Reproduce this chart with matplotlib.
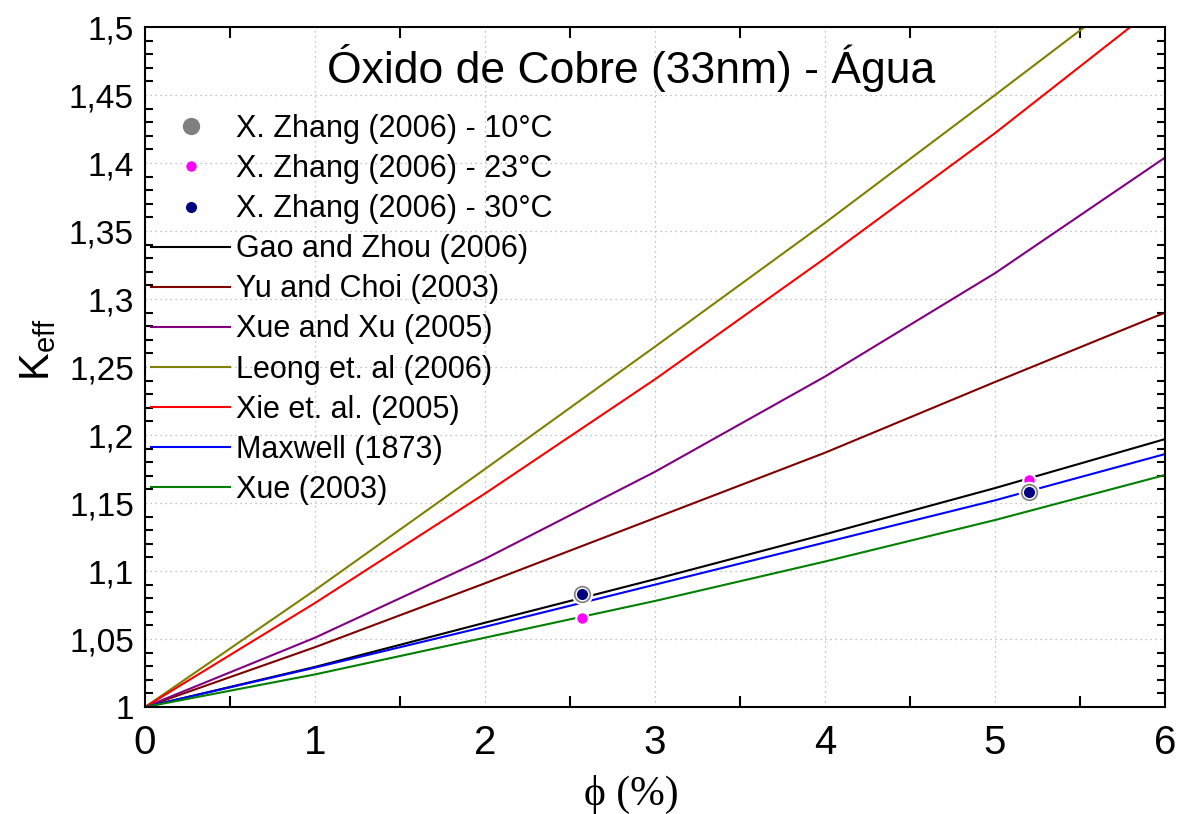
import numpy as np
import matplotlib.pyplot as plt
from matplotlib.ticker import MultipleLocator, FuncFormatter

# valores (phi em %)
phi = [0, 1, 2, 3, 4, 5, 6]
gao_zhou = [1.0, 1.0295, 1.062, 1.094, 1.127, 1.161, 1.197]
yu_choi = [1.0, 1.044, 1.091, 1.139, 1.187, 1.239, 1.290]
xue_xu = [1.0, 1.051, 1.109, 1.173, 1.243, 1.319, 1.404]
leong = [1.0, 1.086, 1.175, 1.265, 1.356, 1.450, 1.545]
xie = [1.0, 1.0765, 1.157, 1.241, 1.330, 1.422, 1.520]
maxwell = [1.0, 1.029, 1.059, 1.090, 1.121, 1.152, 1.186]
xue = [1.0, 1.024, 1.051, 1.078, 1.107, 1.1375, 1.1706]

# dados experimentais
zhang_phi = [2.57, 5.2]
zhang_10 = [1.083, 1.158]
zhang_23 = [1.0656, 1.167]
zhang_30 = [1.083, 1.158]

plt.rcParams['font.family'] = ['Liberation Sans', 'DejaVu Sans']

fig = plt.figure(figsize=(11.8, 8.14), dpi=100)
ax = fig.add_axes([0.1229, 0.1314, 0.8644, 0.8354])

p10, = ax.plot(zhang_phi, zhang_10, 'o', color='#808080', ms=14, mec='white', mew=1.5,
               zorder=4, label='X. Zhang (2006) - 10°C')
p23, = ax.plot(zhang_phi, zhang_23, 'o', color='#ff00ff', ms=9, mec='white', mew=1.5,
               zorder=3, label='X. Zhang (2006) - 23°C')
p30, = ax.plot(zhang_phi, zhang_30, 'o', color='#000080', ms=9, mec='white', mew=1.0,
               zorder=5, label='X. Zhang (2006) - 30°C')

l1, = ax.plot(phi, gao_zhou, color='black', lw=1.5, label='Gao and Zhou (2006)')
l2, = ax.plot(phi, yu_choi, color='#800000', lw=1.5, label='Yu and Choi (2003)')
l3, = ax.plot(phi, xue_xu, color='#800080', lw=1.5, label='Xue and Xu (2005)')
l4, = ax.plot(phi, leong, color='#808000', lw=1.5, label='Leong et. al (2006)')
l5, = ax.plot(phi, xie, color='#ff0000', lw=1.5, label='Xie et. al. (2005)')
l6, = ax.plot(phi, maxwell, color='#0000ff', lw=1.5, label='Maxwell (1873)')
l7, = ax.plot(phi, xue, color='#008000', lw=1.5, label='Xue (2003)')

ax.set_xlim(0, 6)
ax.set_ylim(1, 1.5)

ax.xaxis.set_major_locator(MultipleLocator(1))
ax.xaxis.set_minor_locator(MultipleLocator(0.5))
ax.yaxis.set_major_locator(MultipleLocator(0.05))
ax.yaxis.set_minor_locator(MultipleLocator(0.01))
ax.yaxis.set_major_formatter(FuncFormatter(lambda v, p: f'{v:g}'.replace('.', ',')))

ax.tick_params(which='both', direction='in', top=True, right=True)
ax.tick_params(axis='x', which='major', length=0, pad=12, labelsize=29,
               labelfontfamily=['Liberation Sans Narrow', 'Liberation Sans'])
ax.tick_params(axis='x', which='minor', length=8, width=1.5)
ax.tick_params(axis='y', which='major', length=0, pad=8, labelsize=24)
ax.tick_params(axis='y', which='minor', length=6, width=1.5)

for s in ax.spines.values():
    s.set_linewidth(1.5)

ax.grid(True, which='major', color='#b0b0b0', linestyle=(0, (1, 3)), linewidth=0.9)

ax.text(0.477, 0.94, 'Óxido de Cobre (33nm) - Água', transform=ax.transAxes,
        ha='center', va='center', fontsize=32)

ax.set_xlabel('ϕ (%)', fontsize=30, family=['Liberation Serif', 'DejaVu Serif'])
ax.xaxis.set_label_coords(0.477, -0.1)
ax.set_ylabel(r'K$_{\mathregular{eff}}$', fontsize=30)
ax.yaxis.set_label_coords(-0.085, 0.525)

ax.legend(handles=[p10, p23, p30, l1, l2, l3, l4, l5, l6, l7], loc='upper left',
          bbox_to_anchor=(0.006, 0.872), frameon=False, fontsize=22, numpoints=1,
          handlelength=2.58, handletextpad=0.2, labelspacing=0.33,
          borderpad=0, borderaxespad=0)

fig.savefig('out.png', dpi=100)
